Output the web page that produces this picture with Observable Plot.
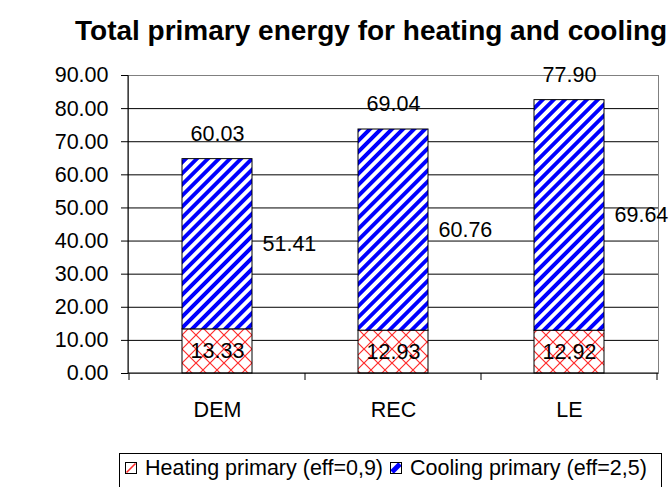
<!DOCTYPE html>
<html>
<head>
<meta charset="utf-8">
<script src="https://cdn.jsdelivr.net/npm/d3@7"></script>
<script src="https://cdn.jsdelivr.net/npm/@observablehq/plot@0.6"></script>
<style>
  html, body { margin: 0; padding: 0; background: #fff; }
  body { width: 670px; height: 487px; overflow: hidden; position: relative;
         font-family: "Liberation Sans", Arial, sans-serif; color: #000; }
  #title { position: absolute; left: 75px; top: 17px; font-size: 28px; font-weight: bold;
           white-space: nowrap; line-height: 1; }
  #chart { position: absolute; left: 0; top: 55px; }
  #ytitle { position: absolute; left: 0; top: 0; }
  #legend { position: absolute; left: 119px; top: 453px; width: 543px; height: 44px;
            border: 1px solid #000; box-sizing: border-box; font-size: 21.5px; }
  #legend .item { position: absolute; top: 2px; display: flex; align-items: center; white-space: nowrap; height: 24px; }
  #legend svg { margin-right: 8px; }
</style>
</head>
<body>
<svg width="0" height="0" style="position:absolute">
  <defs>
    <pattern id="hatchRed" patternUnits="userSpaceOnUse" width="14" height="14">
      <rect width="14" height="14" fill="#fff"/>
      <path d="M0,0L14,14M14,0L0,14" stroke="#ff2a2a" stroke-width="1.2" fill="none"/>
    </pattern>
    <pattern id="stripeBlue" patternUnits="userSpaceOnUse" width="7.8" height="7.8" patternTransform="rotate(45)">
      <rect width="7.8" height="7.8" fill="#fff"/>
      <rect width="3.9" height="7.8" fill="#0000ff"/>
    </pattern>
  </defs>
</svg>
<div id="title">Total primary energy for heating and cooling</div>
<svg id="ytitle" width="60" height="487">
  <text transform="translate(35,224) rotate(-90)" text-anchor="middle"
        font-family="Liberation Sans, Arial, sans-serif" font-weight="bold" font-size="21.5">kWh/m<tspan dy="-9" font-size="14">2</tspan></text>
</svg>
<div id="chart"></div>
<div id="legend"></div>
<script>
const categories = ["DEM", "REC", "LE"];
const heating = [13.33, 12.93, 12.92];
const cooling = [51.41, 60.76, 69.64];
const totalLabels = ["60.03", "69.04", "77.90"];
const yTicks = [0, 10, 20, 30, 40, 50, 60, 70, 80, 90];
const seriesNames = ["Heating primary (eff=0,9)", "Cooling primary (eff=2,5)"];
const seriesFills = ["url(#hatchRed)", "url(#stripeBlue)"];

const rows = categories.flatMap((c, i) => [
  {cat: c, series: seriesNames[0], value: heating[i]},
  {cat: c, series: seriesNames[1], value: cooling[i]}
]);
const cats = categories.map((c, i) => ({cat: c, heating: heating[i], cooling: cooling[i], total: totalLabels[i]}));

const FS = 21.5;

function axesLines(index, scales, values, dims) {
  const x = scales.x, y = scales.y;
  const bw = typeof x.bandwidth === "function" ? x.bandwidth() : scales.scales.x.bandwidth;
  const step = typeof x.step === "function" ? x.step() : scales.scales.x.step;
  const g = d3.create("svg:g");
  const y0 = y(0);
  const left = dims.marginLeft, right = dims.width - dims.marginRight;
  g.append("line").attr("x1", left).attr("x2", left)
    .attr("y1", dims.marginTop).attr("y2", y0).attr("stroke", "#000");
  g.append("line").attr("x1", left).attr("x2", right)
    .attr("y1", y0).attr("y2", y0).attr("stroke", "#000");
  const start = x(categories[0]) - (step - bw) / 2;
  for (let i = 0; i <= categories.length; i++) {
    const xb = start + i * step;
    g.append("line").attr("x1", xb).attr("x2", xb)
      .attr("y1", y0).attr("y2", y0 + 7).attr("stroke", "#000");
  }
  return g.node();
}

const chart = Plot.plot({
  width: 670,
  height: 390,
  marginLeft: 128,
  marginRight: 12,
  marginTop: 20,
  marginBottom: 72,
  style: {fontFamily: "Liberation Sans, Arial, sans-serif", fontSize: FS + "px", color: "#000", background: "#fff", overflow: "visible"},
  x: {domain: categories, paddingInner: 0.6, paddingOuter: 0.3, label: null},
  y: {domain: [0, 90], label: null},
  color: {domain: seriesNames, range: seriesFills},
  marks: [
    Plot.frame({stroke: "#808080"}),
    Plot.ruleY(yTicks.filter(t => t > 0 && t < 90), {stroke: "#000", strokeWidth: 1}),
    Plot.barY(rows, Plot.stackY({x: "cat", y: "value", fill: "series", stroke: "#000", strokeWidth: 1})),
    Plot.axisY({ticks: yTicks, tickFormat: d3.format(".2f"), tickSize: 7, tickPadding: 13, fontSize: FS, label: null, stroke: "#000"}),
    Plot.axisX({tickSize: 0, tickPadding: 28, fontSize: FS, label: null}),
    axesLines,
    Plot.text(cats, {x: "cat", y: d => d.heating / 2, text: d => d.heating.toFixed(2), fontSize: FS, fill: "#000"}),
    Plot.text(cats, {x: "cat", y: d => d.heating + d.cooling / 2, text: d => d.cooling.toFixed(2), fontSize: FS, fill: "#000", textAnchor: "start", dx: 45}),
    Plot.text(cats, {x: "cat", y: d => d.heating + d.cooling, text: "total", fontSize: FS, fill: "#000", dy: -25})
  ]
});
document.getElementById("chart").appendChild(chart);

// legend
const legend = document.getElementById("legend");
const swatches = [
  `<svg width="12" height="12"><rect x="0.5" y="0.5" width="11" height="11" fill="#fff" stroke="#000"/><path d="M1.5,10.5L10.5,1.5" stroke="#ff2a2a" stroke-width="1.6"/></svg>`,
  `<svg width="12" height="12"><rect x="0.5" y="0.5" width="11" height="11" fill="#fff" stroke="#000"/><path d="M2,10L10,2" stroke="#0000ff" stroke-width="5"/><rect x="0.5" y="0.5" width="11" height="11" fill="none" stroke="#000"/></svg>`
];
const lefts = [5, 270];
seriesNames.forEach((name, i) => {
  const it = document.createElement("div");
  it.className = "item";
  it.style.left = lefts[i] + "px";
  it.innerHTML = swatches[i] + `<span>${name}</span>`;
  legend.appendChild(it);
});
</script>
</body>
</html>
